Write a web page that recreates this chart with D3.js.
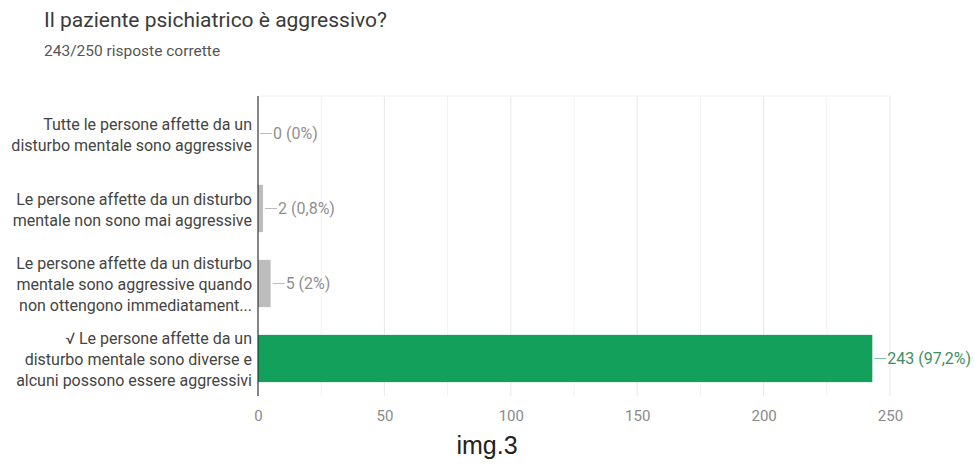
<!DOCTYPE html>
<html>
<head>
<meta charset="utf-8">
<script src="https://cdn.jsdelivr.net/npm/d3@7"></script>
<style>
  html, body { margin: 0; padding: 0; background: #fff; }
  svg { display: block; font-family: Roboto, "Noto Sans", sans-serif; }
</style>
</head>
<body>
<svg id="chart" width="975" height="474"></svg>
<script>
// Answer options (each as wrapped lines), response counts and percentage labels
const categories = [
  ["Tutte le persone affette da un", "disturbo mentale sono aggressive"],
  ["Le persone affette da un disturbo", "mentale non sono mai aggressive"],
  ["Le persone affette da un disturbo", "mentale sono aggressive quando", "non ottengono immediatament..."],
  ["\u221A Le persone affette da un", "disturbo mentale sono diverse e", "alcuni possono essere aggressivi"]
];
const counts = [0, 2, 5, 243];
const percents = ["0%", "0,8%", "2%", "97,2%"];
const correct = [false, false, false, true];
const xTicks = [0, 50, 100, 150, 200, 250];
const gridTicks = [0, 25, 50, 75, 100, 125, 150, 175, 200, 225, 250];

const svg = d3.select("#chart");
const plot = { left: 258, right: 890, top: 96, bottom: 396 };

const x = d3.scaleLinear().domain([0, 250]).range([plot.left, plot.right]);
const y = d3.scaleBand().domain(d3.range(categories.length))
  .range([plot.top, plot.bottom]).paddingInner(0.37).paddingOuter(0.185);

// Title and subtitle
svg.append("text").attr("x", 44).attr("y", 27)
  .attr("font-size", 21).attr("fill", "#3a3a3a")
  .text("Il paziente psichiatrico è aggressivo?");
svg.append("text").attr("x", 44).attr("y", 56)
  .attr("font-size", 15.5).attr("fill", "#555")
  .text("243/250 risposte corrette");

// Vertical gridlines
svg.append("g").selectAll("line").data(gridTicks.slice(1)).join("line")
  .attr("x1", d => x(d)).attr("x2", d => x(d))
  .attr("y1", plot.top).attr("y2", plot.bottom)
  .attr("stroke", d => d % 50 === 0 ? "#e8e8e8" : "#f2f2f2").attr("stroke-width", 1);
svg.append("line").attr("x1", plot.left).attr("x2", plot.right)
  .attr("y1", plot.top).attr("y2", plot.top)
  .attr("stroke", "#f0f0f0");

// Bars
svg.append("g").selectAll("rect").data(counts).join("rect")
  .attr("x", x(0))
  .attr("y", (d, i) => y(i))
  .attr("width", d => x(d) - x(0))
  .attr("height", y.bandwidth())
  .attr("fill", (d, i) => correct[i] ? "#13a05a" : "#bdbdbd");

// Value labels with leader dash
const vl = svg.append("g").selectAll("g").data(counts).join("g")
  .attr("transform", (d, i) => `translate(${x(d)},${y(i) + y.bandwidth() / 2})`);
vl.append("line").attr("x1", 2).attr("x2", 14).attr("y1", 0).attr("y2", 0)
  .attr("stroke", (d, i) => correct[i] ? "#7fc9a2" : "#bbb");
vl.append("text").attr("x", 15).attr("dy", "0.35em")
  .attr("font-size", 16)
  .attr("fill", (d, i) => correct[i] ? "#3b8f63" : "#8f8f8f")
  .text((d, i) => `${d} (${percents[i]})`);

// Category labels, wrapped and right-aligned against the axis
const cl = svg.append("g").selectAll("text").data(categories).join("text")
  .attr("text-anchor", "end").attr("font-size", 16).attr("fill", "#444");
cl.each(function (lines, i) {
  const cy = y(i) + y.bandwidth() / 2 + 1;
  const lh = 21;
  const start = cy - (lines.length - 1) * lh / 2;
  d3.select(this).selectAll("tspan").data(lines).join("tspan")
    .attr("x", plot.left - 6)
    .attr("y", (t, k) => start + k * lh)
    .attr("dy", "0.35em")
    .text(t => t);
});

// Bottom axis tick labels
const axis = svg.append("g").attr("transform", `translate(0,${plot.bottom})`)
  .call(d3.axisBottom(x).tickValues(xTicks).tickSize(0).tickPadding(14));
axis.select(".domain").remove();
axis.selectAll("text").attr("font-size", 15).attr("fill", "#8a8a8a")
  .attr("font-family", "Roboto, sans-serif");

// Vertical baseline axis
svg.append("line").attr("x1", x(0)).attr("x2", x(0))
  .attr("y1", plot.top).attr("y2", plot.bottom)
  .attr("stroke", "#333").attr("stroke-width", 1.2);

// Caption
svg.append("text").attr("x", 487).attr("y", 454)
  .attr("text-anchor", "middle").attr("font-size", 25)
  .attr("font-family", "'Liberation Sans', Arial, sans-serif")
  .attr("fill", "#222").text("img.3");
</script>
</body>
</html>
